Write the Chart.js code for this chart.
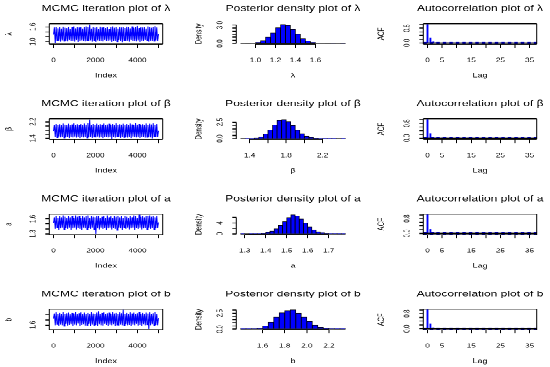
<!DOCTYPE html>
<html><head><meta charset="utf-8">
<script src="https://cdn.jsdelivr.net/npm/chart.js@4.4.1/dist/chart.umd.min.js"></script>
<style>
html,body{margin:0;padding:0;width:550px;height:367px;overflow:hidden;background:#fff}
#fig{position:absolute;left:0;top:0;width:600px;height:540px;transform:scaleY(0.7);transform-origin:0 0}
#fig canvas{position:absolute}
</style></head><body><div id="fig"></div>
<script>
// ---------------- DATA ----------------
const paramLabels = ['λ', 'β', 'a', 'b'];
const nIterations = 5000;

const lambdaTrace = [1.28,1.57,0.92,1.60,1.02,1.54,1.04,1.59,0.99,1.53,1.05,1.61,1.01,1.56,1.04,1.55,1.00,1.60,1.06,1.52,
 1.02,1.58,1.03,1.62,0.99,1.54,1.06,1.59,0.98,1.57,1.03,1.60,1.05,1.53,1.01,1.58,1.00,1.62,1.03,1.59,
 1.02,1.70,1.05,1.53,0.99,1.60,1.04,1.56,0.98,1.59,1.05,1.52,1.02,1.61,1.03,1.57,1.00,1.58,1.06,1.55,
 1.01,1.60,1.04,1.52,1.05,1.58,0.98,1.62,1.02,1.56,1.03,1.59,0.99,1.53,1.06,1.60,1.03,1.57,0.97,1.58,
 1.05,1.55,1.01,1.61,1.04,1.58,0.99,1.54,1.06,1.62,1.02,1.56,1.03,1.59,1.00,1.64,1.05,1.55,0.98,1.60,
 1.04,1.57,1.01,1.58,1.06,1.53,1.02,1.62,0.99,1.58,1.04,1.56,1.03,1.60,1.01,1.63,1.05,1.57,1.02,1.30];
const betaTrace = [1.76,2.06,1.47,2.10,1.44,2.04,1.50,2.09,1.45,2.03,1.48,2.12,1.43,2.07,1.49,2.05,1.46,2.11,1.42,2.03,
 1.48,2.08,1.45,2.13,1.50,2.04,1.44,2.09,1.47,2.06,1.42,2.10,1.49,2.03,1.45,2.12,1.48,2.07,1.43,2.14,
 1.46,2.31,1.49,2.05,1.43,2.10,1.47,2.06,1.45,2.11,1.50,2.03,1.44,2.09,1.48,2.07,1.42,2.12,1.46,2.04,
 1.49,2.08,1.45,2.11,1.47,2.05,1.39,2.10,1.48,2.06,1.44,2.13,1.50,2.04,1.46,2.09,1.43,2.07,1.49,2.11,
 1.45,2.03,1.48,2.10,1.44,2.06,1.47,2.12,1.42,2.08,1.50,2.05,1.46,2.14,1.45,2.07,1.48,2.10,1.43,2.04,
 1.47,2.09,1.49,2.06,1.44,2.12,1.46,2.05,1.48,2.11,1.45,2.08,1.41,2.13,1.49,2.06,1.46,2.10,1.47,1.77];
const aTrace = [1.52,1.63,1.40,1.66,1.42,1.62,1.38,1.65,1.41,1.63,1.43,1.67,1.39,1.64,1.42,1.61,1.40,1.66,1.43,1.63,
 1.38,1.65,1.41,1.62,1.43,1.67,1.39,1.64,1.42,1.65,1.40,1.61,1.37,1.66,1.43,1.63,1.41,1.65,1.39,1.67,
 1.42,1.62,1.40,1.65,1.43,1.64,1.38,1.63,1.30,1.65,1.41,1.66,1.39,1.62,1.43,1.64,1.40,1.65,1.42,1.61,
 1.38,1.67,1.41,1.63,1.43,1.65,1.39,1.62,1.42,1.66,1.40,1.64,1.37,1.65,1.43,1.63,1.41,1.65,1.38,1.62,
 1.42,1.66,1.40,1.64,1.43,1.61,1.39,1.65,1.41,1.63,1.43,1.67,1.38,1.65,1.42,1.62,1.40,1.68,1.43,1.64,
 1.39,1.65,1.41,1.63,1.42,1.66,1.38,1.65,1.43,1.67,1.40,1.64,1.42,1.66,1.39,1.63,1.41,1.65,1.42,1.53];
const bTrace = [1.86,2.04,1.60,2.08,1.63,2.01,1.58,2.06,1.62,2.03,1.60,2.09,1.56,2.02,1.64,2.05,1.59,2.07,1.61,2.00,
 1.63,2.06,1.57,2.04,1.62,2.10,1.60,2.02,1.65,2.05,1.58,2.08,1.61,2.01,1.63,2.07,1.59,2.03,1.60,2.06,
 1.64,2.02,1.58,2.09,1.62,2.04,1.60,2.01,1.61,2.07,1.57,2.13,1.63,2.03,1.60,2.06,1.59,2.08,1.64,2.02,
 1.61,2.05,1.58,2.07,1.62,2.01,1.60,2.09,1.63,2.04,1.56,2.06,1.61,2.02,1.59,2.08,1.62,2.05,1.60,2.17,
 1.58,2.03,1.63,2.06,1.60,2.01,1.61,2.08,1.57,2.04,1.62,2.07,1.60,2.02,1.64,2.05,1.59,2.09,1.61,2.03,
 1.58,2.06,1.63,2.01,1.60,2.07,1.62,2.04,1.45,2.08,1.60,2.02,1.63,2.05,1.59,2.10,1.61,2.03,1.60,1.87];

const traceXTicks = [0, 1000, 2000, 3000, 4000, 5000];
const traceXLabels = ['0', '', '2000', '', '4000', ''];
const lambdaTraceYTicks = [1.0, 1.2, 1.4, 1.6];
const lambdaTraceYLabels = ['1.0', '', '', '1.6'];
const betaTraceYTicks = [1.4, 1.6, 1.8, 2.0, 2.2];
const betaTraceYLabels = ['1.4', '', '', '', '2.2'];
const aTraceYTicks = [1.3, 1.4, 1.5, 1.6];
const aTraceYLabels = ['1.3', '', '', '1.6'];
const bTraceYTicks = [1.6, 1.8, 2.0];
const bTraceYLabels = ['1.6', '', ''];

// histograms: bin edges and densities
const lambdaBreaks = [0.85,0.90,0.95,1.00,1.05,1.10,1.15,1.20,1.25,1.30,1.35,1.40,1.45,1.50,1.55,1.60,1.65,1.70,1.75,1.80,1.85,1.90];
const lambdaDensity = [0, 0.01, 0.05, 0.18, 0.48, 1.02, 1.72, 2.55, 3.10, 2.95, 2.25, 1.50, 0.85, 0.42, 0.18, 0.07, 0.03, 0.01, 0.005, 0, 0.003];
const betaBreaks = [1.30,1.35,1.40,1.45,1.50,1.55,1.60,1.65,1.70,1.75,1.80,1.85,1.90,1.95,2.00,2.05,2.10,2.15,2.20,2.25,2.30,2.35,2.40,2.45];
const betaDensity = [0, 0.005, 0.03, 0.10, 0.30, 0.70, 1.35, 2.10, 2.75, 2.90, 2.60, 2.00, 1.30, 0.75, 0.40, 0.18, 0.07, 0.03, 0.01, 0.005, 0.002, 0, 0.002];
const aBreaks = [1.28,1.30,1.32,1.34,1.36,1.38,1.40,1.42,1.44,1.46,1.48,1.50,1.52,1.54,1.56,1.58,1.60,1.62,1.64,1.66,1.68,1.70,1.72,1.74,1.76,1.78];
const aDensity = [0.01, 0, 0.01, 0.03, 0.07, 0.18, 0.45, 1.0, 1.85, 3.0, 4.5, 6.0, 7.0, 6.6, 5.4, 3.95, 2.6, 1.5, 0.75, 0.32, 0.13, 0.05, 0.02, 0.005, 0.002];
const bBreaks = [1.40,1.45,1.50,1.55,1.60,1.65,1.70,1.75,1.80,1.85,1.90,1.95,2.00,2.05,2.10,2.15,2.20,2.25,2.30,2.35];
const bDensity = [0.002, 0.01, 0.04, 0.15, 0.50, 1.10, 1.90, 2.60, 2.95, 3.05, 2.55, 1.90, 1.20, 0.65, 0.30, 0.12, 0.04, 0.01, 0.004];

const lambdaHistXTicks = [1.0, 1.2, 1.4, 1.6];
const lambdaHistXLabels = ['1.0', '1.2', '1.4', '1.6'];
const lambdaHistYTicks = [0, 0.5, 1, 1.5, 2, 2.5, 3];
const lambdaHistYLabels = ['0.0', '', '', '', '', '', '3.0'];
const betaHistXTicks = [1.4, 1.6, 1.8, 2.0, 2.2];
const betaHistXLabels = ['1.4', '', '1.8', '', '2.2'];
const betaHistYTicks = [0, 0.5, 1, 1.5, 2, 2.5];
const betaHistYLabels = ['0.0', '', '', '', '', '2.5'];
const aHistXTicks = [1.3, 1.4, 1.5, 1.6, 1.7];
const aHistXLabels = ['1.3', '1.4', '1.5', '1.6', '1.7'];
const aHistYTicks = [0, 2, 4, 6];
const aHistYLabels = ['0', '', '4', ''];
const bHistXTicks = [1.6, 1.8, 2.0, 2.2];
const bHistXLabels = ['1.6', '1.8', '2.0', '2.2'];
const bHistYTicks = [0, 0.5, 1, 1.5, 2, 2.5, 3];
const bHistYLabels = ['0.0', '', '', '', '', '2.5', ''];

// autocorrelation
const acfLags = [0,1,2,3,4,5,6,7,8,9,10,11,12,13,14,15,16,17,18,19,20,21,22,23,24,25,26,27,28,29,30,31,32,33,34,35,36];
const lambdaAcf = [1.00,0.27,0.06,0.02,0.01,0.00,-0.01,0.01,0.00,0.01,-0.01,0.00,0.01,0.00,-0.01,0.01,0.00,0.00,0.01,-0.01,0.00,0.01,0.00,-0.01,0.00,0.01,0.00,0.00,-0.01,0.01,0.00,0.00,0.01,0.00,-0.01,0.00,0.01];
const betaAcf = [1.00,0.25,0.05,0.01,0.00,0.01,-0.01,0.00,0.01,0.00,-0.01,0.01,0.00,0.00,0.01,-0.01,0.00,0.01,0.00,-0.01,0.00,0.00,0.01,0.00,-0.01,0.01,0.00,0.00,0.01,-0.01,0.00,0.01,0.00,0.00,-0.01,0.01,0.00];
const aAcf = [1.00,0.22,0.05,0.01,0.00,0.00,0.01,-0.01,0.00,0.01,0.00,-0.01,0.00,0.01,0.00,0.00,-0.01,0.01,0.00,0.00,0.01,-0.01,0.00,0.01,0.00,0.00,-0.01,0.01,0.00,0.00,0.01,0.00,-0.01,0.00,0.01,0.00,0.00];
const bAcf = [1.00,0.24,0.05,0.02,0.01,0.00,0.00,-0.01,0.01,0.00,0.00,0.01,-0.01,0.00,0.00,0.01,0.00,-0.01,0.00,0.01,0.00,0.00,-0.01,0.01,0.00,0.00,0.01,0.00,-0.01,0.00,0.01,0.00,0.00,-0.01,0.01,0.00,0.00];
const acfConfLimit = 0.0277;
const acfXTicks = [0, 5, 10, 15, 20, 25, 30, 35];
const acfXLabels = ['0', '5', '', '15', '', '25', '', '35'];
const acfYTicks = [0, 0.2, 0.4, 0.6, 0.8, 1.0];
const acfYLabels = ['0.0', '', '', '', '0.8', ''];

// ---------------- LAYOUT / STYLE ----------------
const K = 0.7;                      // vertical squash of the original figure
const COL_STEP = 187, ROW_STEP = 95.3 / K;
const CW = 212, CH = 136;
const BOX_L = 49.3, BOX_R = 162.7, BOX_T = 33.7, BOX_B = 63.1;
const FONT = "'Liberation Sans', Arial, sans-serif";
const TITLE_SIZE = 12, TICK_SIZE = 8.2, LAB_SIZE = 9;
const TITLE_CENTER = 12.4;
const X_TICK_LEN = 5, Y_TICK_LEN = 4;
const X_LABEL_CENTER = 86.3, X_TITLE_CENTER = 108;
const Y_LABEL_CENTER = 33.3;
const BLUE = '#0000FF', BLACK = '#000000';

const measureCtx = document.createElement('canvas').getContext('2d');
function halfWidest(labels) {
  measureCtx.font = TICK_SIZE + 'px ' + FONT;
  return Math.max(...labels.map(l => measureCtx.measureText(l).width)) / 2;
}
const ext = (lo, hi) => { const d = (hi - lo) * 0.04; return [lo - d, hi + d]; };

const rFrame = {
  id: 'rFrame',
  afterDatasetsDraw(chart, args, opts) {
    const { ctx, chartArea: a } = chart;
    ctx.save();
    ctx.strokeStyle = BLACK;
    if (opts.box) {
      ctx.lineWidth = 1;
      ctx.beginPath(); ctx.moveTo(a.left, a.top); ctx.lineTo(a.left, a.bottom);
      ctx.moveTo(a.right, a.top); ctx.lineTo(a.right, a.bottom); ctx.stroke();
      ctx.lineWidth = 1 / K;
      ctx.beginPath(); ctx.moveTo(a.left, a.top); ctx.lineTo(a.right, a.top);
      ctx.moveTo(a.left, a.bottom); ctx.lineTo(a.right, a.bottom); ctx.stroke();
    }
    if (opts.axes) {
      const xs = chart.scales.x, ys = chart.scales.y;
      const xt = xs.ticks, yt = ys.ticks;
      ctx.lineWidth = 1 / K;
      ctx.beginPath();
      ctx.moveTo(xs.getPixelForValue(xt[0].value), a.bottom);
      ctx.lineTo(xs.getPixelForValue(xt[xt.length - 1].value), a.bottom);
      ctx.stroke();
      ctx.lineWidth = 1;
      ctx.beginPath();
      ctx.moveTo(a.left, ys.getPixelForValue(yt[0].value));
      ctx.lineTo(a.left, ys.getPixelForValue(yt[yt.length - 1].value));
      ctx.stroke();
    }
    ctx.restore();
  }
};
Chart.register(rFrame);

function xScale(range, ticks, labels, title) {
  return {
    type: 'linear', position: 'bottom', min: range[0], max: range[1], offset: false,
    afterBuildTicks: s => { s.ticks = ticks.map(v => ({ value: v })); },
    afterFit: s => { s.height = CH - BOX_B; },
    grid: { display: true, drawOnChartArea: false, drawTicks: true, offset: false,
            tickLength: X_TICK_LEN, tickColor: BLACK, tickWidth: 1 },
    border: { display: false },
    ticks: { autoSkip: false, minRotation: 0, maxRotation: 0, color: BLACK,
             padding: X_LABEL_CENTER - BOX_B - X_TICK_LEN - TICK_SIZE * 0.6,
             font: { family: FONT, size: TICK_SIZE }, callback: (v, i) => labels[i] },
    title: { display: true, text: title, color: BLACK, font: { family: FONT, size: LAB_SIZE },
             padding: { top: 0, bottom: CH - X_TITLE_CENTER - LAB_SIZE * 0.6 } }
  };
}
function yScale(range, ticks, labels, title, titleCenter) {
  return {
    type: 'linear', position: 'left', min: range[0], max: range[1],
    afterBuildTicks: s => { s.ticks = ticks.map(v => ({ value: v })); },
    afterFit: s => { s.width = BOX_L; },
    grid: { display: true, drawOnChartArea: false, drawTicks: true,
            tickLength: Y_TICK_LEN, tickColor: BLACK, tickWidth: 1 / K },
    border: { display: false },
    ticks: { autoSkip: false, minRotation: 90, maxRotation: 90, crossAlign: 'center', color: BLACK,
             padding: BOX_L - Y_LABEL_CENTER - Y_TICK_LEN - halfWidest(labels),
             font: { family: FONT, size: TICK_SIZE }, callback: (v, i) => labels[i] },
    title: { display: true, text: title, color: BLACK, font: { family: FONT, size: LAB_SIZE },
             padding: { top: titleCenter - LAB_SIZE * 0.6, bottom: 0 } }
  };
}
// empty right-hand spacer axis so the full-width title is centred over the plot box
const rightSpacer = {
  type: 'linear', position: 'right', display: true,
  grid: { display: false }, border: { display: false }, ticks: { display: false },
  afterFit: s => { s.width = CW - BOX_R; }
};
function baseOptions(title, xs, ys, frame) {
  return {
    responsive: false, animation: false, events: [], devicePixelRatio: 2,
    layout: { padding: 0 },
    plugins: {
      legend: { display: false }, tooltip: { enabled: false },
      title: { display: true, text: title, fullSize: true, color: BLACK,
               font: { family: FONT, size: TITLE_SIZE, weight: 'normal' },
               padding: { top: TITLE_CENTER - TITLE_SIZE * 0.6, bottom: BOX_T - TITLE_CENTER - TITLE_SIZE * 0.6 } },
      rFrame: frame
    },
    scales: { x: xs, y: ys, spacer: rightSpacer }
  };
}
const fig = document.getElementById('fig');
function panel(row, col) {
  const cv = document.createElement('canvas');
  cv.style.left = (col * COL_STEP) + 'px';
  cv.style.top = (row * ROW_STEP) + 'px';
  cv.style.width = CW + 'px'; cv.style.height = CH + 'px';
  cv.width = CW; cv.height = CH;
  fig.appendChild(cv);
  return cv;
}

function tracePlot(row, name, series, yTicks, yLabels) {
  const idx = series.map((_, i) => 1 + Math.round(i * (nIterations - 1) / (series.length - 1)));
  const yr = ext(Math.min(...series), Math.max(...series));
  new Chart(panel(row, 0), {
    type: 'line',
    data: { datasets: [{ data: idx.map((x, i) => ({ x, y: series[i] })), borderColor: BLUE,
                         borderWidth: 1, pointRadius: 0, tension: 0, fill: false }] },
    options: baseOptions('MCMC iteration plot of ' + name,
      xScale(ext(1, nIterations), traceXTicks, traceXLabels, 'Index'),
      yScale(yr, yTicks, yLabels, name, 9), { box: true })
  });
}
function histPlot(row, name, breaks, dens, xTicks, xLabels, yTicks, yLabels) {
  const mids = dens.map((_, i) => (breaks[i] + breaks[i + 1]) / 2);
  new Chart(panel(row, 1), {
    type: 'bar',
    data: { datasets: [
      { type: 'bar', data: mids.map((x, i) => ({ x, y: dens[i] })), backgroundColor: BLUE,
        borderColor: BLACK, borderWidth: 0.8, barPercentage: 1, categoryPercentage: 1, order: 0 },
      { type: 'line', data: [{ x: breaks[0], y: 0 }, { x: breaks[breaks.length - 1], y: 0 }],
        borderColor: '#333', borderWidth: 1 / K, pointRadius: 0, order: 1 }
    ] },
    options: baseOptions('Posterior density plot of ' + name,
      xScale(ext(breaks[0], breaks[breaks.length - 1]), xTicks, xLabels, name),
      yScale(ext(0, Math.max(...dens)), yTicks, yLabels, 'Density', 12), { axes: true })
  });
}
function acfPlot(row, name, acf) {
  const xr = ext(acfLags[0], acfLags[acfLags.length - 1]);
  const yr = ext(Math.min(-acfConfLimit, ...acf), Math.max(acfConfLimit, ...acf));
  const hline = (y, color, dash) => ({ type: 'line', data: [{ x: xr[0], y }, { x: xr[1], y }],
    borderColor: color, borderWidth: 1 / K, borderDash: dash, pointRadius: 0, order: 0 });
  new Chart(panel(row, 2), {
    type: 'bar',
    data: { datasets: [
      { type: 'bar', data: acfLags.map((x, i) => ({ x, y: acf[i] })), backgroundColor: BLUE,
        barThickness: 1.2, borderWidth: 0, order: 2 },
      hline(0, BLACK, []),
      hline(acfConfLimit, BLUE, [3.5, 3]),
      hline(-acfConfLimit, BLUE, [3.5, 3])
    ] },
    options: baseOptions('Autocorrelation plot of ' + name,
      xScale(xr, acfXTicks, acfXLabels, 'Lag'),
      yScale(yr, acfYTicks, acfYLabels, 'ACF', 7.7), { box: true })
  });
}

tracePlot(0, paramLabels[0], lambdaTrace, lambdaTraceYTicks, lambdaTraceYLabels);
tracePlot(1, paramLabels[1], betaTrace, betaTraceYTicks, betaTraceYLabels);
tracePlot(2, paramLabels[2], aTrace, aTraceYTicks, aTraceYLabels);
tracePlot(3, paramLabels[3], bTrace, bTraceYTicks, bTraceYLabels);
histPlot(0, paramLabels[0], lambdaBreaks, lambdaDensity, lambdaHistXTicks, lambdaHistXLabels, lambdaHistYTicks, lambdaHistYLabels);
histPlot(1, paramLabels[1], betaBreaks, betaDensity, betaHistXTicks, betaHistXLabels, betaHistYTicks, betaHistYLabels);
histPlot(2, paramLabels[2], aBreaks, aDensity, aHistXTicks, aHistXLabels, aHistYTicks, aHistYLabels);
histPlot(3, paramLabels[3], bBreaks, bDensity, bHistXTicks, bHistXLabels, bHistYTicks, bHistYLabels);
acfPlot(0, paramLabels[0], lambdaAcf);
acfPlot(1, paramLabels[1], betaAcf);
acfPlot(2, paramLabels[2], aAcf);
acfPlot(3, paramLabels[3], bAcf);
</script></body></html>
